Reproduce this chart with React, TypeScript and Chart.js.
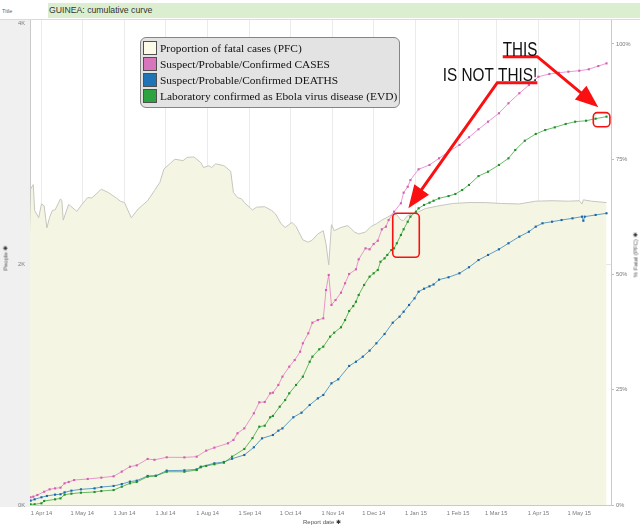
import React, { useEffect, useRef } from "react";
import { Chart, registerables } from "chart.js";

Chart.register(...registerables);

// ---------- data ----------
const cases: [string, number][] = [
  ["2014-03-24", 64], ["2014-03-26", 69], ["2014-03-29", 83], ["2014-04-03", 110], ["2014-04-07", 130],
  ["2014-04-11", 138], ["2014-04-15", 144], ["2014-04-18", 180], ["2014-04-21", 191], ["2014-04-25", 207],
  ["2014-05-05", 216], ["2014-05-15", 227], ["2014-05-24", 238], ["2014-05-30", 277], ["2014-06-05", 318],
  ["2014-06-10", 329], ["2014-06-18", 382], ["2014-06-23", 375], ["2014-07-02", 396], ["2014-07-15", 395],
  ["2014-07-24", 401], ["2014-07-31", 451], ["2014-08-06", 476], ["2014-08-16", 512], ["2014-08-20", 540],
  ["2014-08-23", 595], ["2014-08-28", 636], ["2014-09-04", 761], ["2014-09-08", 852], ["2014-09-12", 855],
  ["2014-09-16", 927], ["2014-09-18", 932], ["2014-09-22", 996], ["2014-09-25", 1065], ["2014-09-30", 1148],
  ["2014-10-04", 1203], ["2014-10-08", 1272], ["2014-10-10", 1342], ["2014-10-14", 1425], ["2014-10-17", 1513],
  ["2014-10-21", 1535], ["2014-10-25", 1549], ["2014-10-27", 1784], ["2014-10-29", 1909], ["2014-10-31", 1660],
  ["2014-11-03", 1701], ["2014-11-07", 1762], ["2014-11-10", 1840], ["2014-11-13", 1917], ["2014-11-18", 1956],
  ["2014-11-20", 2039], ["2014-11-25", 2130], ["2014-11-28", 2122], ["2014-12-01", 2166], ["2014-12-04", 2193],
  ["2014-12-07", 2288], ["2014-12-10", 2310], ["2014-12-12", 2365], ["2014-12-16", 2434], ["2014-12-21", 2504],
  ["2014-12-23", 2592], ["2014-12-26", 2641], ["2014-12-28", 2697], ["2015-01-03", 2786], ["2015-01-11", 2822],
  ["2015-01-18", 2877], ["2015-01-25", 2932], ["2015-02-02", 2988], ["2015-02-09", 3052], ["2015-02-16", 3118],
  ["2015-02-23", 3181], ["2015-03-03", 3251], ["2015-03-10", 3334], ["2015-03-18", 3417], ["2015-03-25", 3485],
  ["2015-04-01", 3554], ["2015-04-09", 3577], ["2015-04-16", 3587], ["2015-04-23", 3596], ["2015-05-01", 3604],
  ["2015-05-08", 3616], ["2015-05-15", 3643], ["2015-05-21", 3665],
];

const deaths: [string, number][] = [
  ["2014-03-24", 36], ["2014-03-27", 47], ["2014-04-01", 64], ["2014-04-05", 75], ["2014-04-11", 86],
  ["2014-04-15", 89], ["2014-04-18", 105], ["2014-04-23", 119], ["2014-04-30", 130], ["2014-05-10", 138],
  ["2014-05-15", 149], ["2014-05-24", 158], ["2014-05-30", 174], ["2014-06-05", 194], ["2014-06-10", 202],
  ["2014-06-18", 241], ["2014-06-24", 243], ["2014-07-02", 285], ["2014-07-15", 288], ["2014-07-24", 296],
  ["2014-07-27", 318], ["2014-08-06", 346], ["2014-08-13", 357], ["2014-08-19", 384], ["2014-08-28", 415],
  ["2014-09-04", 479], ["2014-09-10", 553], ["2014-09-18", 581], ["2014-09-22", 617], ["2014-09-25", 636],
  ["2014-10-03", 728], ["2014-10-09", 766], ["2014-10-15", 830], ["2014-10-21", 885], ["2014-10-25", 913],
  ["2014-10-31", 1010], ["2014-11-05", 1043], ["2014-11-13", 1154], ["2014-11-18", 1189], ["2014-11-23", 1231],
  ["2014-11-28", 1281], ["2014-12-03", 1342], ["2014-12-09", 1419], ["2014-12-15", 1513], ["2014-12-20", 1563],
  ["2014-12-23", 1604], ["2014-12-27", 1660], ["2014-12-31", 1715], ["2015-01-03", 1770], ["2015-01-07", 1795],
  ["2015-01-11", 1815], ["2015-01-14", 1830], ["2015-01-18", 1870], ["2015-01-25", 1890], ["2015-02-02", 1923],
  ["2015-02-09", 1973], ["2015-02-16", 2033], ["2015-02-23", 2075], ["2015-03-03", 2122], ["2015-03-10", 2172],
  ["2015-03-18", 2227], ["2015-03-25", 2268], ["2015-03-30", 2310], ["2015-04-04", 2338], ["2015-04-11", 2351],
  ["2015-04-18", 2365], ["2015-04-26", 2379], ["2015-05-03", 2393], ["2015-05-04", 2359], ["2015-05-05", 2393],
  ["2015-05-13", 2407], ["2015-05-21", 2421],
];

const labConfirmed: [string, number][] = [
  ["2014-03-24", 5], ["2014-03-27", 6], ["2014-04-01", 14], ["2014-04-03", 33], ["2014-04-11", 47],
  ["2014-04-15", 55], ["2014-04-18", 86], ["2014-04-23", 94], ["2014-04-30", 102], ["2014-05-10", 108],
  ["2014-05-15", 116], ["2014-05-24", 124], ["2014-05-30", 152], ["2014-06-05", 180], ["2014-06-10", 191],
  ["2014-06-18", 235], ["2014-06-24", 241], ["2014-07-02", 276], ["2014-07-15", 276], ["2014-07-24", 290],
  ["2014-07-27", 313], ["2014-07-31", 324], ["2014-08-06", 338], ["2014-08-13", 351], ["2014-08-19", 401],
  ["2014-08-28", 465], ["2014-09-03", 555], ["2014-09-08", 650], ["2014-09-12", 658], ["2014-09-16", 728],
  ["2014-09-18", 739], ["2014-09-23", 816], ["2014-09-27", 871], ["2014-09-30", 927], ["2014-10-05", 996],
  ["2014-10-10", 1065], ["2014-10-15", 1189], ["2014-10-17", 1231], ["2014-10-22", 1292], ["2014-10-25", 1314],
  ["2014-10-30", 1397], ["2014-11-02", 1430], ["2014-11-07", 1475], ["2014-11-10", 1535], ["2014-11-13", 1610],
  ["2014-11-16", 1651], ["2014-11-18", 1687], ["2014-11-20", 1743], ["2014-11-24", 1826], ["2014-11-28", 1895],
  ["2014-12-01", 1923], ["2014-12-04", 1950], ["2014-12-06", 2019], ["2014-12-09", 2047], ["2014-12-11", 2075],
  ["2014-12-14", 2116], ["2014-12-16", 2130], ["2014-12-18", 2172], ["2014-12-21", 2241], ["2014-12-23", 2288],
  ["2014-12-26", 2351], ["2014-12-28", 2393], ["2015-01-01", 2434], ["2015-01-03", 2462], ["2015-01-07", 2490],
  ["2015-01-11", 2509], ["2015-01-14", 2525], ["2015-01-18", 2545], ["2015-01-25", 2564], ["2015-01-30", 2581],
  ["2015-02-04", 2614], ["2015-02-09", 2656], ["2015-02-16", 2730], ["2015-02-23", 2766], ["2015-03-03", 2822],
  ["2015-03-10", 2877], ["2015-03-15", 2946], ["2015-03-22", 3023], ["2015-03-30", 3079], ["2015-04-06", 3112],
  ["2015-04-13", 3134], ["2015-04-21", 3162], ["2015-04-28", 3181], ["2015-05-06", 3189], ["2015-05-13", 3206],
  ["2015-05-21", 3223],
];

// proportion of fatal cases, in %
const pfc: [string, number][] = [
  ["2014-03-23", 56], ["2014-03-24", 68.5], ["2014-03-26", 69.5], ["2014-03-27", 63.9], ["2014-03-30", 62.3],
  ["2014-04-01", 65.3], ["2014-04-03", 64.9], ["2014-04-05", 60.1], ["2014-04-07", 62.4], ["2014-04-09", 63.9],
  ["2014-04-11", 64.0], ["2014-04-15", 66.4], ["2014-04-16", 66.0], ["2014-04-17", 61.8], ["2014-04-21", 65.2],
  ["2014-04-27", 63.7], ["2014-05-01", 65.3], ["2014-05-05", 66.7], ["2014-05-08", 66.6], ["2014-05-15", 68.5],
  ["2014-05-20", 67.8], ["2014-05-26", 66.6], ["2014-05-29", 65.9], ["2014-06-01", 65.6], ["2014-06-06", 62.3],
  ["2014-06-11", 64.2], ["2014-06-18", 66.0], ["2014-06-23", 68.2], ["2014-06-27", 70.0], ["2014-06-30", 72.9],
  ["2014-07-08", 75.0], ["2014-07-14", 74.7], ["2014-07-17", 75.4], ["2014-07-22", 75.5], ["2014-07-27", 74.3],
  ["2014-07-29", 73.2], ["2014-08-02", 73.6], ["2014-08-04", 73.2], ["2014-08-07", 74.0], ["2014-08-13", 73.6],
  ["2014-08-18", 72.4], ["2014-08-20", 67.8], ["2014-08-23", 66.7], ["2014-08-26", 66.4], ["2014-08-28", 65.6],
  ["2014-09-03", 64.0], ["2014-09-06", 64.6], ["2014-09-12", 64.7], ["2014-09-17", 63.9], ["2014-09-20", 63.1],
  ["2014-09-24", 61.0], ["2014-09-27", 60.2], ["2014-10-02", 61.3], ["2014-10-05", 60.4], ["2014-10-10", 57.5],
  ["2014-10-14", 57.0], ["2014-10-17", 57.5], ["2014-10-21", 58.8], ["2014-10-25", 59.5], ["2014-10-27", 56.6],
  ["2014-10-29", 52.1], ["2014-10-31", 60.8], ["2014-11-02", 59.5], ["2014-11-07", 60.2], ["2014-11-12", 60.6],
  ["2014-11-17", 59.2], ["2014-11-20", 58.8], ["2014-11-25", 59.2], ["2014-11-29", 60.4], ["2014-12-03", 61.0],
  ["2014-12-07", 61.8], ["2014-12-11", 62.4], ["2014-12-15", 63.1], ["2014-12-18", 63.0], ["2014-12-21", 61.8],
  ["2014-12-23", 61.7], ["2014-12-26", 62.8], ["2014-12-29", 63.1], ["2015-01-03", 63.6], ["2015-01-08", 64.3],
  ["2015-01-18", 64.9], ["2015-01-28", 65.4], ["2015-02-09", 65.6], ["2015-02-21", 65.6], ["2015-03-05", 65.4],
  ["2015-03-18", 65.3], ["2015-03-30", 65.9], ["2015-04-11", 66.0], ["2015-04-23", 65.9], ["2015-05-01", 66.0],
  ["2015-05-03", 65.3], ["2015-05-04", 66.2], ["2015-05-10", 65.9], ["2015-05-21", 65.6],
];

const monthTicks = [
  "2014-04-01", "2014-05-01", "2014-06-01", "2014-07-01", "2014-08-01", "2014-09-01", "2014-10-01",
  "2014-11-01", "2014-12-01", "2015-01-01", "2015-02-01", "2015-03-01", "2015-04-01", "2015-05-01",
];
const monthTickLabels = [
  "1 Apr 14", "1 May 14", "1 Jun 14", "1 Jul 14", "1 Aug 14", "1 Sep 14", "1 Oct 14",
  "1 Nov 14", "1 Dec 14", "1 Jan 15", "1 Feb 15", "1 Mar 15", "1 Apr 15", "1 May 15",
];
const peopleTicks = [0, 2000, 4000];
const peopleTickLabels = ["0K", "2K", "4K"];
const fatalTicks = [0, 25, 50, 75, 100];
const fatalTickLabels = ["0%", "25%", "50%", "75%", "100%"];

const legendItems = [
  { label: "Proportion of fatal cases (PFC)", color: "#fbfbe8" },
  { label: "Suspect/Probable/Confirmed CASES", color: "#d876bc" },
  { label: "Suspect/Probable/Confirmed DEATHS", color: "#1f74b6" },
  { label: "Laboratory confirmed as Ebola virus disease (EVD)", color: "#2ca340" },
];

// annotations, placed in data space: [day offset from 1 Apr 2014, people]
const noteTexts = [
  { text: "THIS", at: [338.8, 3726], size: 20, width: 34.6 },
  { text: "IS NOT THIS!", at: [294.7, 3521], size: 18.7, width: 94.6 },
];
const noteArrows: number[][][] = [
  [[338.8, 3721], [364.2, 3721], [409.0, 3300]],
  [[364.2, 3505], [334.8, 3505], [269.5, 2462]],
];
const noteBoxes: number[][][] = [
  [[405.3, 3256], [417.5, 3139]],
  [[258.0, 2421], [277.5, 2056]],
];

// ---------- helpers ----------
const BASE = Date.UTC(2014, 3, 1);
const dayOf = (s: string) => {
  const [y, m, d] = s.split("-").map(Number);
  return (Date.UTC(y, m - 1, d) - BASE) / 86400000;
};
const toPoints = (arr: [string, number][]) => arr.map(([d, v]) => ({ x: dayOf(d), y: v }));

const X_MIN = -8.4;
const X_MAX = 418.3;
const RED = "#fa1010";
const TICK_FONT = { family: "'Liberation Sans', Arial, sans-serif", size: 5.7 };
const TICK_COLOR = "#7a7a7a";

const notesPlugin = {
  id: "notes",
  afterDatasetsDraw(chart: any) {
    const ctx = chart.ctx as CanvasRenderingContext2D;
    const xs = chart.scales.x;
    const ys = chart.scales.y;
    const P = (p: number[]) => [xs.getPixelForValue(p[0]), ys.getPixelForValue(p[1])];
    ctx.save();
    // rounded boxes
    ctx.strokeStyle = RED;
    ctx.lineWidth = 1.6;
    for (const b of noteBoxes) {
      const [x0, y0] = P(b[0]);
      const [x1, y1] = P(b[1]);
      ctx.beginPath();
      (ctx as any).roundRect(Math.min(x0, x1), Math.min(y0, y1), Math.abs(x1 - x0), Math.abs(y1 - y0), 4);
      ctx.stroke();
    }
    // arrows
    ctx.fillStyle = RED;
    ctx.lineWidth = 3;
    ctx.lineJoin = "miter";
    for (const a of noteArrows) {
      const pts = a.map(P);
      const n = pts.length;
      const [tx, ty] = pts[n - 1];
      const [sx, sy] = pts[n - 2];
      const len = Math.hypot(tx - sx, ty - sy);
      const ux = (tx - sx) / len;
      const uy = (ty - sy) / len;
      const L = 23;
      const W = 9;
      const bx = tx - ux * L;
      const by = ty - uy * L;
      ctx.beginPath();
      ctx.moveTo(pts[0][0], pts[0][1]);
      for (let i = 1; i < n - 1; i++) ctx.lineTo(pts[i][0], pts[i][1]);
      ctx.lineTo(bx + ux * 2, by + uy * 2);
      ctx.stroke();
      ctx.beginPath();
      ctx.moveTo(tx, ty);
      ctx.lineTo(bx - uy * W, by + ux * W);
      ctx.lineTo(bx + uy * W, by - ux * W);
      ctx.closePath();
      ctx.fill();
    }
    // texts
    ctx.fillStyle = "#111";
    ctx.textBaseline = "alphabetic";
    ctx.textAlign = "left";
    for (const t of noteTexts) {
      ctx.font = `${t.size}px 'Liberation Sans', Arial, sans-serif`;
      const w = ctx.measureText(t.text).width;
      const [x, y] = P(t.at);
      ctx.save();
      ctx.translate(x, y);
      ctx.scale(t.width / w, 1);
      ctx.fillText(t.text, 0, 0);
      ctx.restore();
    }
    ctx.restore();
  },
};

export default function App() {
  const ref = useRef<HTMLCanvasElement | null>(null);

  useEffect(() => {
    if (!ref.current) return;
    const lineDs = (label: string, data: [string, number][], line: string, point: string) => ({
      label,
      data: toPoints(data),
      yAxisID: "y",
      borderColor: line,
      borderWidth: 1,
      pointRadius: 1.5,
      pointBackgroundColor: point,
      pointBorderWidth: 0,
      pointStyle: "rect" as const,
      fill: false,
      tension: 0,
      order: 1,
    });
    const chart = new Chart(ref.current, {
      type: "line",
      data: {
        datasets: [
          lineDs("Laboratory confirmed as Ebola virus disease (EVD)", labConfirmed, "rgba(44,160,44,0.7)", "#1f8f2a"),
          lineDs("Suspect/Probable/Confirmed DEATHS", deaths, "rgba(31,119,180,0.7)", "#1a66a8"),
          lineDs("Suspect/Probable/Confirmed CASES", cases, "rgba(227,119,194,0.75)", "#d45fb2"),
          {
            label: "Proportion of fatal cases (PFC)",
            data: toPoints(pfc),
            yAxisID: "y1",
            borderColor: "#c6c6be",
            borderWidth: 1,
            backgroundColor: "#f5f5e3",
            pointRadius: 0,
            fill: "origin",
            tension: 0,
            order: 10,
          },
        ],
      },
      options: {
        animation: false,
        responsive: false,
        events: [],
        layout: { padding: { top: 20, left: 0, right: 0, bottom: 0 } },
        plugins: { legend: { display: false }, tooltip: { enabled: false }, title: { display: false } },
        scales: {
          x: {
            type: "linear",
            position: "bottom",
            min: X_MIN,
            max: X_MAX,
            afterFit: (s: any) => { s.height = 22; },
            afterBuildTicks: (s: any) => { s.ticks = monthTicks.map((d) => ({ value: dayOf(d) })); },
            ticks: {
              autoSkip: false,
              maxRotation: 0,
              padding: 5,
              font: TICK_FONT,
              color: TICK_COLOR,
              callback: (_v: any, i: number) => monthTickLabels[i],
            },
            grid: { color: "#ebebeb", drawTicks: false },
            border: { color: "#cacaca" },
          },
          y: {
            position: "left",
            min: 0,
            max: 4025,
            afterFit: (s: any) => { s.width = 30; },
            afterBuildTicks: (s: any) => { s.ticks = peopleTicks.map((v) => ({ value: v })); },
            ticks: {
              padding: 5,
              font: TICK_FONT,
              color: TICK_COLOR,
              callback: (_v: any, i: number) => peopleTickLabels[i],
            },
            grid: {
              drawTicks: false,
              color: (c: any) => (c.tick && c.tick.value === 2000 ? "#e6e6e6" : "rgba(0,0,0,0)"),
            },
            border: { color: "#cacaca" },
          },
          y1: {
            position: "right",
            min: 0,
            max: 105.2,
            afterFit: (s: any) => { s.width = 29; },
            afterBuildTicks: (s: any) => { s.ticks = fatalTicks.map((v) => ({ value: v })); },
            ticks: {
              padding: 2,
              font: TICK_FONT,
              color: TICK_COLOR,
              callback: (_v: any, i: number) => fatalTickLabels[i],
            },
            grid: { drawOnChartArea: false, drawTicks: true, tickLength: 3, color: "#bdbdbd" },
            border: { color: "#cacaca" },
          },
        },
      },
      plugins: [notesPlugin],
    } as any);
    return () => chart.destroy();
  }, []);

  const sans = "'Liberation Sans', Arial, sans-serif";
  const pin = "\u2731";

  return (
    <div style={{ position: "fixed", left: 0, top: 0, width: 640, height: 527, background: "#fff", overflow: "hidden" }}>
      <div style={{ position: "absolute", left: 2, top: 8, fontFamily: sans, fontSize: 5.5, color: "#666" }}>Title</div>
      <div style={{ position: "absolute", left: 48, top: 3, width: 592, height: 15, background: "#dbefd0" }}>
        <div style={{ position: "absolute", left: 1, top: 1, fontFamily: sans, fontSize: 8.7, lineHeight: "12px", color: "#333" }}>
          GUINEA: cumulative curve
        </div>
      </div>
      <div style={{ position: "absolute", left: 0, top: 19, width: 640, height: 1, background: "#dadada" }} />
      <div style={{ position: "absolute", left: 0, top: 20, width: 30, height: 487, background: "#f0f0f0" }} />
      <canvas ref={ref} width={640} height={527} style={{ position: "absolute", left: 0, top: 0, width: 640, height: 527 }} />

      {/* legend */}
      <div
        style={{
          position: "absolute", left: 140, top: 37, width: 260, height: 71, boxSizing: "border-box",
          background: "#e3e3e3", border: "1px solid #858585", borderRadius: 6,
        }}
      >
        {legendItems.map((it, i) => (
          <div key={it.label} style={{ position: "absolute", left: 2, top: 3 + i * 16, height: 14, whiteSpace: "nowrap" }}>
            <div style={{ position: "absolute", left: 0, top: 0, width: 14, height: 14, boxSizing: "border-box", background: it.color, border: "1px solid #505050" }} />
            <div style={{ position: "absolute", left: 17, top: 0, lineHeight: "14px", fontFamily: "'Liberation Serif', 'Times New Roman', serif", fontSize: 11.4, color: "#111" }}>
              {it.label}
            </div>
          </div>
        ))}
      </div>

      {/* axis titles */}
      <div style={{ position: "absolute", left: 5, top: 258, transform: "translate(-50%,-50%) rotate(-90deg)", fontFamily: sans, fontSize: 6, color: "#555", whiteSpace: "nowrap" }}>
        People <span style={{ color: "#333" }}>{pin}</span>
      </div>
      <div style={{ position: "absolute", left: 635, top: 255, transform: "translate(-50%,-50%) rotate(-90deg)", fontFamily: sans, fontSize: 6, color: "#555", whiteSpace: "nowrap" }}>
        % Fatal (PFC) <span style={{ color: "#333" }}>{pin}</span>
      </div>
      <div style={{ position: "absolute", left: 322, top: 521, transform: "translate(-50%,-50%)", fontFamily: sans, fontSize: 6, color: "#555", whiteSpace: "nowrap" }}>
        Report date <span style={{ color: "#333" }}>{pin}</span>
      </div>
    </div>
  );
}
